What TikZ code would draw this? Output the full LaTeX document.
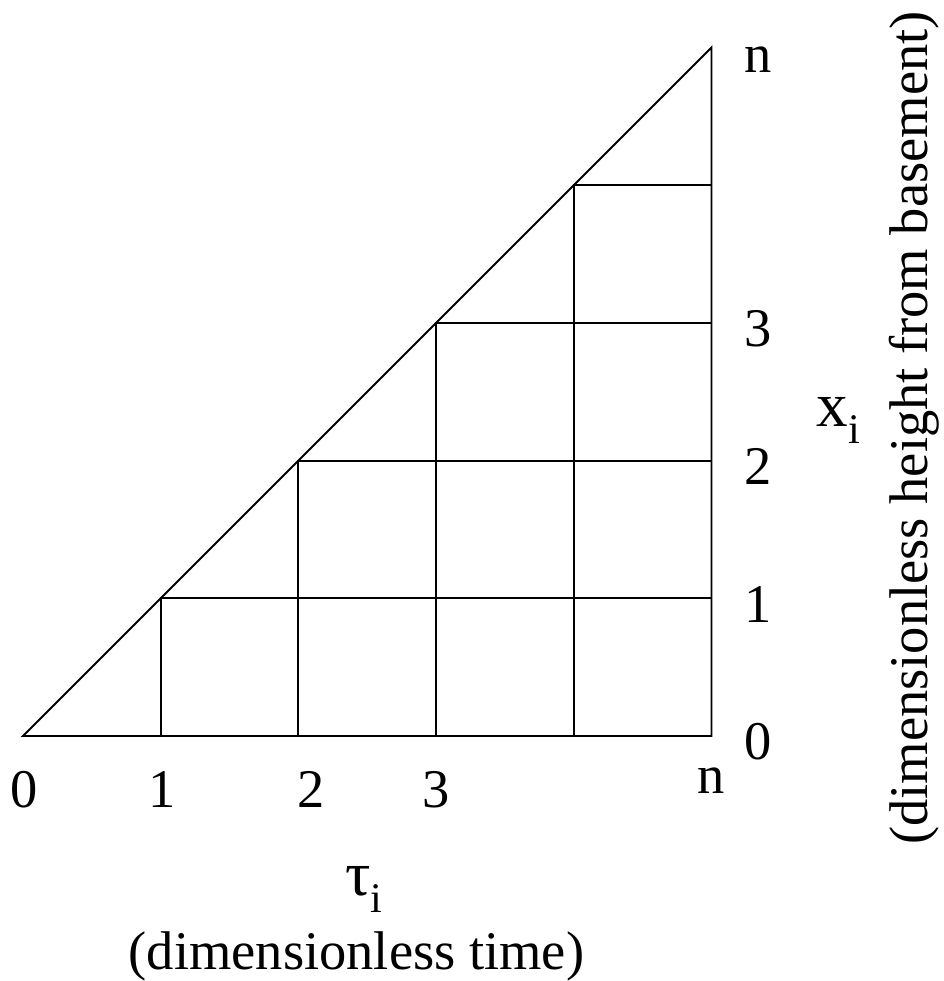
\documentclass[tikz,border=0pt]{standalone}
\usepackage{fontspec}
\setmainfont{Liberation Serif}
\usepackage{tikz}
\usetikzlibrary{positioning}
\definecolor{ink}{HTML}{000000}
\tikzset{
  gridline/.style={draw=ink,line width=1.1pt},
  ticklbl/.style={inner sep=0pt,anchor=base,text=ink,
                  font=\fontsize{31}{36}\selectfont},
  varlbl/.style={inner sep=0pt,anchor=base west,text=ink,
                 font=\fontsize{36}{40}\selectfont},
  notelbl/.style={inner sep=0pt,anchor=base,text=ink,
                  font=\fontsize{31}{36}\selectfont},
}
\newcommand{\subi}{\raisebox{-0.28em}{\fontsize{24}{26}\selectfont i}}

\begin{document}
\begin{tikzpicture}[x=2.754cm,y=2.754cm]
  \useasboundingbox (-0.167,-1.779) rectangle (6.688,5.345);
  % triangle and staircase grid
  \draw[gridline] (0,0) -- (5,0) -- (5,5) -- cycle;
  \foreach \k in {1,...,4}{
    \draw[gridline] (\k,0) -- (\k,\k) -- (5,\k);
  }
  % tau axis
  \node[ticklbl] (t0) at (0.01,-0.516) {0};
  \node[ticklbl] (t1) at (1.01,-0.516) {1};
  \node[ticklbl] (t2) at (2.09,-0.516) {2};
  \node[ticklbl] (t3) at (3.00,-0.516) {3};
  \node[ticklbl] (tn) at (5.00,-0.414) {n};
  % x axis
  \node[ticklbl] (x0) at (5.338,-0.174) {0};
  \node[ticklbl] (x1) at (5.338,0.826) {1};
  \node[ticklbl] (x2) at (5.338,1.826) {2};
  \node[ticklbl] (x3) at (5.338,2.826) {3};
  \node[ticklbl] (xn) at (5.338,4.822) {n};
  % variable names
  \node[varlbl] (tau) at (2.338,-1.155) {τ\subi};
  \node[notelbl] (taunote) at (2.422,-1.699) {(dimensionless time)};
  \node[varlbl] (xi) at (5.759,2.251) {x\subi};
  \node[notelbl,rotate=90] (xinote) at (6.565,2.237)
    {(dimensionless height from basement)};
\end{tikzpicture}
\end{document}
